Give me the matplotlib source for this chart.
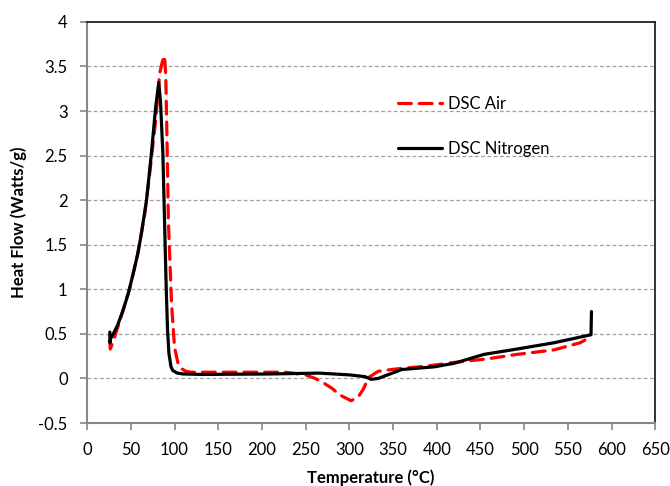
#!/usr/bin/env python3
"""DSC heat flow vs temperature, air vs nitrogen."""
import matplotlib
matplotlib.use("Agg")
import matplotlib.pyplot as plt

plt.rcParams["font.family"] = ["Lato", "DejaVu Sans"]

# DSC Air (dashed red)
air_t = [26, 26.5, 30, 37.5, 49, 58, 66, 71.6, 78.4, 83, 86, 88.6, 90, 91, 93, 96.6,
         100, 104, 108, 113, 120, 155, 227, 250, 261, 272, 280, 290, 302, 310, 316,
         322, 333, 352, 390, 420, 458, 492, 534, 564, 575]
air_hf = [0.42, 0.33, 0.42, 0.65, 1.02, 1.40, 1.85, 2.30, 2.89, 3.42, 3.55, 3.62, 3.40,
          2.89, 1.77, 0.84, 0.35, 0.17, 0.11, 0.08, 0.07, 0.07, 0.07, 0.04, 0.0, -0.06,
          -0.11, -0.19, -0.25, -0.21, -0.12, 0.01, 0.08, 0.105, 0.14, 0.18, 0.22, 0.27,
          0.32, 0.40, 0.46]

# DSC Nitrogen (solid black)
n2_t = [26, 26.2, 27, 30, 35, 41, 47, 52.6, 58, 62, 68, 73.5, 78.4, 82, 84, 86.7, 88.5,
        90.5, 92, 93.6, 96, 98, 103, 110, 132, 208, 265, 300, 318, 325, 333, 360,
        397, 420, 454, 492, 534, 576.5, 577]
n2_hf = [0.52, 0.40, 0.45, 0.50, 0.60, 0.76, 0.95, 1.17, 1.40, 1.62, 2.00, 2.52, 3.04,
         3.32, 3.10, 2.52, 1.80, 1.02, 0.55, 0.28, 0.13, 0.09, 0.06, 0.05, 0.045, 0.05,
         0.06, 0.04, 0.02, -0.01, 0.0, 0.10, 0.13, 0.17, 0.27, 0.33, 0.40, 0.49, 0.75]

x_ticks = list(range(0, 651, 50))
y_ticks = [-0.5, 0, 0.5, 1, 1.5, 2, 2.5, 3, 3.5, 4]

fig = plt.figure(figsize=(6.7, 4.86), dpi=100)
ax = fig.add_axes([0.13, 0.1296, 0.848, 0.8254])

ax.plot(air_t, air_hf, color="#ff0000", lw=2.3, dashes=(4, 2.5), label="DSC Air",
        solid_capstyle="round", dash_capstyle="round", zorder=3)
ax.plot(n2_t, n2_hf, color="black", lw=2.3, label="DSC Nitrogen",
        solid_capstyle="round", solid_joinstyle="round", zorder=4)

ax.set_xlim(0, 650)
ax.set_ylim(-0.5, 4)
ax.set_xticks(x_ticks)
ax.set_yticks(y_ticks)
ax.set_yticklabels(["-0.5", "0", "0.5", "1", "1.5", "2", "2.5", "3", "3.5", "4"])

for yv in y_ticks[1:-1]:
    ax.axhline(yv, color="#a0a0a0", lw=0.9, ls=(0, (3, 2)), zorder=1)

for side in ("left", "bottom"):
    ax.spines[side].set_color("#868686")
    ax.spines[side].set_linewidth(1.5)
for side in ("top", "right"):
    ax.spines[side].set_color("#222222")
    ax.spines[side].set_linewidth(1.3)

ax.tick_params(axis="both", which="major", direction="out", length=5, width=1.2,
               color="#868686", labelsize=12, pad=9)

ax.set_xlabel("Temperature (°C)", fontsize=12, fontweight="bold", labelpad=8)
ax.set_ylabel("Heat Flow (Watts/g)", fontsize=12, fontweight="bold", labelpad=8)

ax.legend(loc="upper left", bbox_to_anchor=(0.548, 0.815), frameon=False,
          fontsize=12, handlelength=2.6, labelspacing=1.75, borderpad=0,
          borderaxespad=0, handletextpad=0.35)

fig.savefig("out.png", dpi=100, facecolor="white")
